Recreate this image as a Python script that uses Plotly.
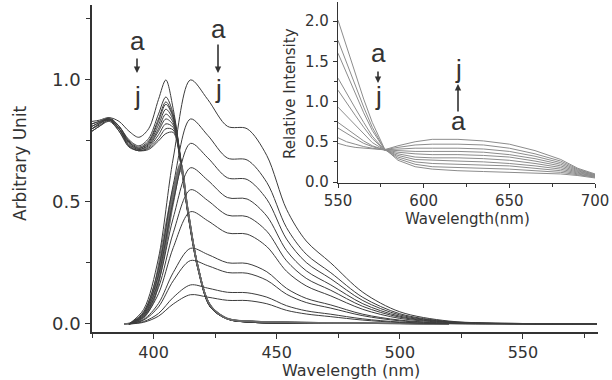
import plotly.graph_objects as go

W, H = 612, 380

# ---------------- data ----------------
abs_wl = [375, 378, 382, 386, 390, 394, 398, 402, 405, 408, 411, 414, 418, 423, 430, 440, 460, 500]
abs_curves = [
    [.81, .825, .845, .83, .79, .765, .80, .92, 1.0, .88, .68, .46, .24, .075, .022, .008, .004, .002],
    [.80, .82, .84, .81, .755, .73, .76, .86, .93, .86, .68, .46, .24, .074, .022, .008, .004, .002],
    [.82, .83, .84, .81, .75, .725, .75, .84, .91, .85, .675, .46, .235, .073, .021, .008, .004, .002],
    [.79, .81, .835, .80, .745, .72, .745, .83, .90, .845, .675, .455, .235, .073, .021, .008, .004, .002],
    [.83, .835, .845, .81, .745, .72, .74, .815, .88, .835, .67, .455, .235, .072, .021, .007, .004, .002],
    [.80, .82, .84, .80, .74, .715, .735, .80, .86, .825, .67, .455, .23, .072, .021, .007, .004, .002],
    [.81, .825, .835, .80, .735, .715, .73, .79, .84, .815, .665, .45, .23, .071, .02, .007, .003, .002],
    [.79, .81, .83, .79, .73, .71, .725, .775, .82, .805, .665, .45, .23, .071, .02, .007, .003, .002],
    [.82, .83, .84, .80, .73, .71, .72, .76, .80, .795, .66, .45, .225, .07, .02, .007, .003, .002],
    [.80, .815, .835, .79, .725, .71, .715, .75, .78, .785, .66, .445, .225, .07, .02, .007, .003, .002],
]

band_wl = [388, 392, 396, 400, 404, 408, 411, 414, 418, 423, 430, 440, 455, 475, 500, 520]
band_curves = [
    [0, .010, .050, .150, .36, .56, .660, .47, .240, .080, .024, .012, .008, .005, .002, 0],
    [0, .008, .045, .140, .34, .55, .655, .47, .240, .080, .023, .012, .008, .005, .002, 0],
    [0, .007, .040, .130, .32, .54, .650, .47, .238, .079, .023, .012, .008, .005, .002, 0],
    [0, .006, .036, .120, .31, .53, .645, .465, .236, .078, .022, .011, .007, .004, .002, 0],
    [0, .005, .032, .110, .30, .52, .640, .465, .235, .078, .022, .011, .007, .004, .002, 0],
    [0, .005, .030, .100, .28, .51, .635, .46, .233, .077, .022, .011, .007, .004, .002, 0],
    [0, .004, .027, .095, .27, .50, .630, .46, .232, .076, .021, .010, .006, .004, .001, 0],
    [0, .004, .024, .090, .26, .49, .625, .455, .230, .075, .021, .010, .006, .004, .001, 0],
]

em_wl = [390, 396, 402, 408, 415, 422, 430, 438, 446, 454, 462, 472, 485, 500, 520, 550, 580]
em_curves = [
    [0, .060, .270, .680, 1.00, .920, .810, .800, .690, .470, .340, .250, .130, .050, .012, .002, 0],
    [0, .050, .227, .571, .840, .773, .680, .672, .580, .395, .286, .210, .109, .042, .010, .002, 0],
    [0, .044, .200, .503, .740, .681, .599, .592, .511, .348, .252, .185, .096, .037, .009, .001, 0],
    [0, .038, .173, .435, .640, .589, .518, .512, .442, .301, .218, .160, .083, .032, .008, .001, 0],
    [0, .033, .149, .374, .550, .506, .446, .440, .380, .259, .187, .138, .072, .028, .007, .001, 0],
    [0, .028, .124, .313, .460, .423, .373, .368, .317, .216, .156, .115, .060, .023, .006, .001, 0],
    [0, .019, .084, .211, .310, .285, .251, .248, .214, .146, .105, .078, .040, .016, .004, .001, 0],
    [0, .016, .070, .177, .260, .239, .211, .208, .179, .122, .088, .065, .034, .013, .003, .001, 0],
    [0, .010, .043, .109, .160, .147, .130, .128, .110, .075, .054, .040, .021, .008, .002, 0, 0],
    [0, .007, .032, .082, .120, .110, .097, .096, .083, .056, .041, .030, .016, .006, .001, 0, 0],
]

inset_wl = [550, 555, 560, 565, 570, 577, 585, 595, 605, 620, 635, 650, 665, 680, 690, 700]
inset_curves = [
    [2.01, 1.68, 1.35, 1.03, .74, .42, .27, .19, .16, .14, .13, .12, .11, .10, .08, .05],
    [1.76, 1.48, 1.20, .93, .68, .41, .29, .22, .19, .18, .17, .16, .14, .12, .09, .06],
    [1.60, 1.35, 1.10, .86, .64, .41, .31, .25, .23, .22, .21, .20, .17, .14, .10, .06],
    [1.29, 1.10, .92, .74, .57, .40, .33, .28, .27, .26, .25, .23, .20, .16, .11, .07],
    [1.14, .98, .83, .68, .54, .40, .35, .31, .30, .30, .29, .27, .23, .18, .12, .07],
    [.93, .82, .70, .59, .49, .40, .37, .35, .34, .34, .33, .31, .26, .20, .13, .08],
    [.74, .66, .58, .51, .45, .40, .39, .38, .38, .38, .37, .34, .29, .22, .14, .08],
    [.67, .60, .54, .48, .44, .40, .41, .42, .42, .42, .41, .38, .32, .24, .15, .09],
    [.55, .50, .47, .44, .42, .40, .43, .46, .47, .47, .46, .42, .35, .26, .16, .09],
    [.48, .45, .43, .42, .41, .40, .45, .50, .53, .53, .51, .47, .39, .28, .17, .10],
]

main_xticks = [400, 450, 500, 550]
main_yticks = [0.0, 0.5, 1.0]
inset_xticks = [550, 600, 650, 700]
inset_yticks = [0.0, 0.5, 1.0, 1.5, 2.0]

# ---------------- figure ----------------
fig = go.Figure()
LINE = "#3c3c3c"
for c in abs_curves:
    fig.add_trace(go.Scatter(x=abs_wl, y=c, mode="lines", xaxis="x", yaxis="y",
                             line=dict(color=LINE, width=1, shape="spline", smoothing=0.9),
                             hoverinfo="skip", showlegend=False))
for c in band_curves:
    fig.add_trace(go.Scatter(x=band_wl, y=c, mode="lines", xaxis="x", yaxis="y",
                             line=dict(color="#6a6a6a", width=1, shape="spline", smoothing=0.9),
                             hoverinfo="skip", showlegend=False))
for c in em_curves:
    fig.add_trace(go.Scatter(x=em_wl, y=c, mode="lines", xaxis="x", yaxis="y",
                             line=dict(color=LINE, width=1, shape="spline", smoothing=0.9),
                             hoverinfo="skip", showlegend=False))
for c in inset_curves:
    fig.add_trace(go.Scatter(x=inset_wl, y=c, mode="lines", xaxis="x2", yaxis="y2",
                             line=dict(color="#8c8c8c", width=1),
                             hoverinfo="skip", showlegend=False))

AX = "#333333"

def px(x):
    return x / W

def py(y):
    return 1 - y / H

fig.update_layout(
    width=W, height=H,
    margin=dict(l=0, r=0, t=0, b=0, autoexpand=False),
    paper_bgcolor="white", plot_bgcolor="rgba(0,0,0,0)",
    xaxis=dict(domain=[px(92), px(598)], range=[375, 580.5], automargin=False,
               tickvals=main_xticks, ticks="outside", ticklen=5, tickwidth=1.3, tickcolor=AX,
               showline=True, linecolor=AX, linewidth=1.5, showgrid=False, zeroline=False,
               tickfont=dict(family="DejaVu Sans", size=16, color=AX), ticklabelstandoff=0,
               minor=dict(ticks="outside", ticklen=4, tickwidth=1.2, tickcolor=AX, dtick=25, tick0=375, showgrid=False),
               anchor="y"),
    yaxis=dict(domain=[py(332), py(5)], range=[-0.0328, 1.307], automargin=False,
               tickvals=main_yticks, tickformat=".1f", ticks="outside", ticklen=5, tickwidth=1.3, tickcolor=AX,
               showline=True, linecolor=AX, linewidth=1.5, showgrid=False, zeroline=False,
               tickfont=dict(family="DejaVu Sans", size=18, color=AX), ticklabelstandoff=1,
               minor=dict(ticks="outside", ticklen=4, tickwidth=1.2, tickcolor=AX, dtick=0.25, tick0=0, showgrid=False),
               anchor="x"),
    xaxis2=dict(domain=[px(338), px(595)], range=[550, 700], automargin=False,
                tickvals=inset_xticks, ticks="outside", ticklen=4, tickwidth=1.2, tickcolor=AX,
                showline=True, linecolor=AX, linewidth=1.3, showgrid=False, zeroline=False,
                tickfont=dict(family="DejaVu Sans", size=15, color=AX), ticklabelstandoff=0,
                minor=dict(ticks="outside", ticklen=3, tickwidth=1, tickcolor=AX, dtick=25, tick0=550, showgrid=False),
                anchor="y2"),
    yaxis2=dict(domain=[py(183), py(2)], range=[-0.0124, 2.236], automargin=False,
                tickvals=inset_yticks, tickformat=".1f", ticks="outside", ticklen=4, tickwidth=1.2, tickcolor=AX,
                showline=True, linecolor=AX, linewidth=1.3, showgrid=False, zeroline=False,
                tickfont=dict(family="DejaVu Sans", size=15, color=AX), ticklabelstandoff=1,
                minor=dict(ticks="outside", ticklen=3, tickwidth=1, tickcolor=AX, dtick=0.25, tick0=0, showgrid=False),
                anchor="x2"),
)

ann = []
# axis titles
ann.append(dict(text="Wavelength (nm)", x=px(351), y=py(358.5), xref="paper", yref="paper",
                xanchor="center", yanchor="top", showarrow=False,
                font=dict(family="DejaVu Sans", size=16, color=AX)))
ann.append(dict(text="Arbitrary Unit", x=px(20), y=py(163), xref="paper", yref="paper",
                xanchor="center", yanchor="middle", showarrow=False, textangle=-90,
                font=dict(family="DejaVu Sans", size=17, color=AX)))
ann.append(dict(text="Wavelength(nm)", x=px(467), y=py(219), xref="paper", yref="paper",
                xanchor="center", yanchor="middle", showarrow=False,
                font=dict(family="DejaVu Sans", size=15, color=AX)))
ann.append(dict(text="Relative Intensity", x=px(290), y=py(94), xref="paper", yref="paper",
                xanchor="center", yanchor="middle", showarrow=False, textangle=-90,
                font=dict(family="DejaVu Sans", size=15, color=AX)))

LETTER = dict(family="Liberation Sans", size=26, color=AX)

def letter(t, x, y):
    ann.append(dict(text=t, x=px(x), y=py(y), xref="paper", yref="paper",
                    xanchor="center", yanchor="middle", showarrow=False, font=LETTER))

def arrow(x, y_tail, y_head):
    ann.append(dict(text="", x=px(x), y=py(y_head), xref="paper", yref="paper",
                    ax=0, ay=y_tail - y_head, showarrow=True, arrowhead=2, arrowsize=0.8,
                    arrowwidth=1.6, arrowcolor=AX, standoff=0, startstandoff=0))

# main left: a -> j (down)
letter("a", 137, 41)
arrow(137, 57, 73)
letter("j", 137, 96)
# main right: a -> j (down)
letter("a", 218, 29)
arrow(218, 43, 73)
letter("j", 218, 89)
# inset left: a -> j (down)
letter("a", 378, 53)
arrow(378, 70, 83)
letter("j", 378, 96)
# inset right: a -> j (up)
letter("j", 458, 69)
arrow(458, 113, 84)
letter("a", 458, 121)

fig.update_layout(annotations=ann)

fig.write_html("out.html")
